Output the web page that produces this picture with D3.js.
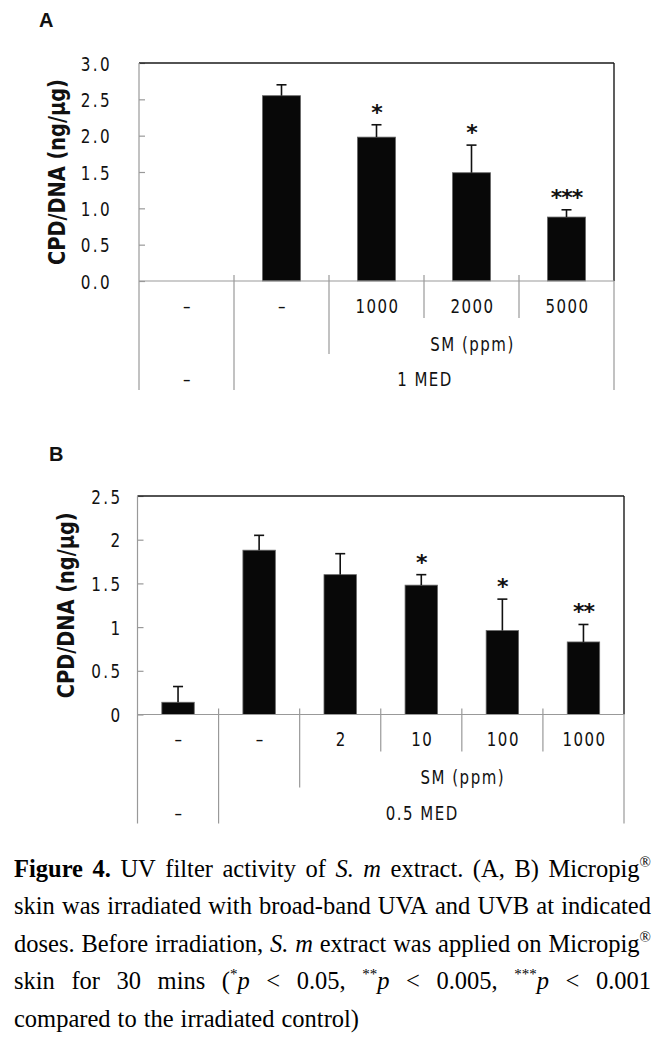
<!DOCTYPE html>
<html><head><meta charset="utf-8">
<script src="https://cdn.jsdelivr.net/npm/d3@7"></script>
<style>body{margin:0;background:#fff}svg{display:block}</style>
</head><body>
<script>
// ---------- Panel A data ----------
const doseA = ["–", "–", "1000", "2000", "5000"];
const valueA = [0, 2.55, 1.98, 1.49, 0.88];
const errorA = [0, 0.15, 0.17, 0.38, 0.10];
const starA = ["", "", "*", "*", "***"];
const tickA = [0, 0.5, 1, 1.5, 2, 2.5, 3];
const tickLabelA = ["0.0", "0.5", "1.0", "1.5", "2.0", "2.5", "3.0"];
const uvA = ["–", "1 MED"];
// ---------- Panel B data ----------
const doseB = ["–", "–", "2", "10", "100", "1000"];
const valueB = [0.14, 1.88, 1.60, 1.48, 0.96, 0.83];
const errorB = [0.18, 0.17, 0.24, 0.12, 0.36, 0.20];
const starB = ["", "", "", "*", "*", "**"];
const tickB = [0, 0.5, 1, 1.5, 2, 2.5];
const tickLabelB = ["0", "0.5", "1", "1.5", "2", "2.5"];
const uvB = ["–", "0.5 MED"];
const smLabel = "SM (ppm)";
const yTitle = "CPD/DNA (ng/μg)";
// ---------- Caption ----------
const captionLines = [
  "{b:Figure} {b:4.} UV filter activity of {i:S.} {i:m} extract. (A, B) Micropig{s:®}",
  "skin was irradiated with broad-band UVA and UVB at indicated",
  "doses. Before irradiation, {i:S.} {i:m} extract was applied on Micropig{s:®}",
  "skin for 30 mins ({s:*}{i:p} < 0.05, {s:**}{i:p} < 0.005, {s:***}{i:p} < 0.001",
  "compared to the irradiated control)"
];

const W = 658, H = 1046;
const svg = d3.select("body").append("svg").attr("width", W).attr("height", H);
const grey = "#999", dark = "#1a1a1a";
const tableFont = "DejaVu Sans";

function condText(g, x, y, str, anchor, size, sx, ls) {
  return g.append("text")
    .attr("transform", `translate(${x},${y}) scale(${sx},1)`)
    .attr("text-anchor", anchor)
    .attr("font-family", tableFont)
    .attr("font-size", size)
    .attr("letter-spacing", ls)
    .attr("fill", "#111")
    .text(str);
}

function drawPanel(o) {
  const n = o.dose.length;
  const g = svg.append("g");
  const x = d3.scaleBand().domain(d3.range(n)).range([o.left, o.right]).padding(0);
  const y = d3.scaleLinear().domain([0, o.yMax]).range([o.zero, o.top]);
  const bw = x.bandwidth();
  const r1 = o.zero + 37, r2 = o.zero + 73, r3 = o.zero + 109;

  // panel letter
  g.append("text").attr("x", o.letterX).attr("y", o.letterY).text(o.letter)
    .attr("font-family", "Liberation Sans").attr("font-weight", "bold")
    .attr("font-size", 20).attr("fill", "#111");

  // y axis (ticks inward)
  const ax = g.append("g").attr("transform", `translate(${o.left},0)`)
    .call(d3.axisLeft(y).tickValues(o.ticks).tickSizeInner(-6).tickSizeOuter(0)
      .tickFormat((d, i) => o.tickLabels[i]));
  ax.select(".domain").remove();
  ax.selectAll(".tick line").attr("stroke", grey).attr("stroke-width", 1.2);
  ax.selectAll(".tick text").attr("x", null).attr("dy", null)
    .attr("transform", `translate(${-o.tickPad},7) scale(0.78,1)`)
    .attr("font-family", tableFont).attr("font-size", 19.5)
    .attr("letter-spacing", 3).attr("fill", "#111");

  // y title
  g.append("text")
    .attr("transform", `translate(${o.titleX},${(o.top + o.zero) / 2}) rotate(-90) scale(0.88,1.05)`)
    .attr("text-anchor", "middle").attr("dy", "0.36em")
    .attr("font-family", "DejaVu Sans").attr("font-weight", "bold")
    .attr("font-size", 22).attr("fill", "#111").text(yTitle);

  // bars
  g.selectAll("rect.bar").data(o.values).join("rect").attr("class", "bar")
    .attr("x", (d, i) => x(i) + bw * 0.3).attr("width", bw * 0.4)
    .attr("y", d => y(d)).attr("height", d => y(0) - y(d))
    .attr("fill", "#080808").attr("stroke", "#666").attr("stroke-width", 0.8)
    .attr("display", d => d > 0 ? null : "none");

  // error bars (upper only)
  o.values.forEach((v, i) => {
    const e = o.errors[i];
    if (!(e > 0)) return;
    const cx = x(i) + bw / 2;
    g.append("line").attr("x1", cx).attr("x2", cx).attr("y1", y(v)).attr("y2", y(v + e))
      .attr("stroke", "#111").attr("stroke-width", 1.6);
    g.append("line").attr("x1", cx - 5).attr("x2", cx + 5).attr("y1", y(v + e)).attr("y2", y(v + e))
      .attr("stroke", "#111").attr("stroke-width", 1.6);
    if (o.stars[i]) {
      g.append("text").attr("x", cx).attr("y", y(v + e) - 5).attr("text-anchor", "middle")
        .attr("font-family", "DejaVu Sans").attr("font-weight", "bold").attr("font-size", 22)
        .attr("letter-spacing", -1).attr("fill", "#111").text(o.stars[i]);
    }
  });

  // frame
  g.append("line").attr("x1", o.left).attr("x2", o.right).attr("y1", o.top).attr("y2", o.top)
    .attr("stroke", dark).attr("stroke-width", 1.4);
  g.append("line").attr("x1", o.right).attr("x2", o.right).attr("y1", o.top).attr("y2", o.zero)
    .attr("stroke", dark).attr("stroke-width", 1.4);
  g.append("line").attr("x1", o.right).attr("x2", o.right).attr("y1", o.zero).attr("y2", r3)
    .attr("stroke", grey).attr("stroke-width", 1.2);
  g.append("line").attr("x1", o.left).attr("x2", o.left).attr("y1", o.top).attr("y2", r3)
    .attr("stroke", grey).attr("stroke-width", 1.2);
  g.append("line").attr("x1", o.left).attr("x2", o.right).attr("y1", o.zero).attr("y2", o.zero)
    .attr("stroke", grey).attr("stroke-width", 1.2);

  // table dividers
  for (let i = 1; i < n; i++) {
    const xe = x(i);
    const y2 = i === 1 ? r3 : (i === 2 ? r2 : r1);
    g.append("line").attr("x1", xe).attr("x2", xe).attr("y1", o.zero - 6).attr("y2", y2)
      .attr("stroke", grey).attr("stroke-width", 1.2);
  }
  // table text
  o.dose.forEach((d, i) => condText(g, x(i) + bw / 2 + 1, o.zero + 31.5, d, "middle", 20, 0.75, 2));
  condText(g, (x(2) + o.right) / 2 + 1, o.zero + 69.5, smLabel, "middle", 20, 0.75, 2);
  condText(g, x(0) + bw / 2 + 1, o.zero + 105, o.uv[0], "middle", 20, 0.75, 2);
  condText(g, (x(1) + o.right) / 2 + 1, o.zero + 105, o.uv[1], "middle", 20, 0.75, 2);
}

drawPanel({
  dose: doseA, values: valueA, errors: errorA, stars: starA, ticks: tickA, tickLabels: tickLabelA, uv: uvA,
  left: 139, right: 614, top: 63, zero: 281, yMax: 3, tickPad: 27, titleX: 57,
  letter: "A", letterX: 39, letterY: 27
});
drawPanel({
  dose: doseB, values: valueB, errors: errorB, stars: starB, ticks: tickB, tickLabels: tickLabelB, uv: uvB,
  left: 137.5, right: 624, top: 496, zero: 714.5, yMax: 2.5, tickPad: 15, titleX: 66,
  letter: "B", letterX: 49, letterY: 461
});

// ---------- Caption (justified) ----------
const capLeft = 14, capRight = 651, capTop = 877, capLead = 37.4, capSize = 24.5;
const cap = svg.append("g").attr("font-family", "Liberation Serif").attr("font-size", capSize).attr("fill", "#000");
captionLines.forEach((line, li) => {
  const words = line.split(" ");
  const yb = capTop + li * capLead;
  const nodes = words.map(w => {
    const t = cap.append("text").attr("y", yb);
    const re = /\{([bis]):([^}]*)\}|([^{]+)/g;
    let m, raised = false;
    while ((m = re.exec(w)) !== null) {
      const ts = t.append("tspan");
      if (m[3] !== undefined) {
        ts.text(m[3]);
        if (raised) { ts.attr("dy", 10); raised = false; }
      } else {
        ts.text(m[2]);
        if (m[1] === "b") ts.attr("font-weight", "bold");
        if (m[1] === "i") ts.attr("font-style", "italic");
        if (m[1] === "s") { ts.attr("font-size", 15).attr("dy", -10); raised = true; }
        else if (raised) { ts.attr("dy", 10); raised = false; }
      }
    }
    return t;
  });
  const widths = nodes.map(t => t.node().getComputedTextLength());
  const total = d3.sum(widths);
  const last = li === captionLines.length - 1;
  const gap = last ? 7 : (capRight - capLeft - total) / (words.length - 1);
  let cx = capLeft;
  nodes.forEach((t, i) => { t.attr("x", cx); cx += widths[i] + gap; });
});
</script>
</body></html>
